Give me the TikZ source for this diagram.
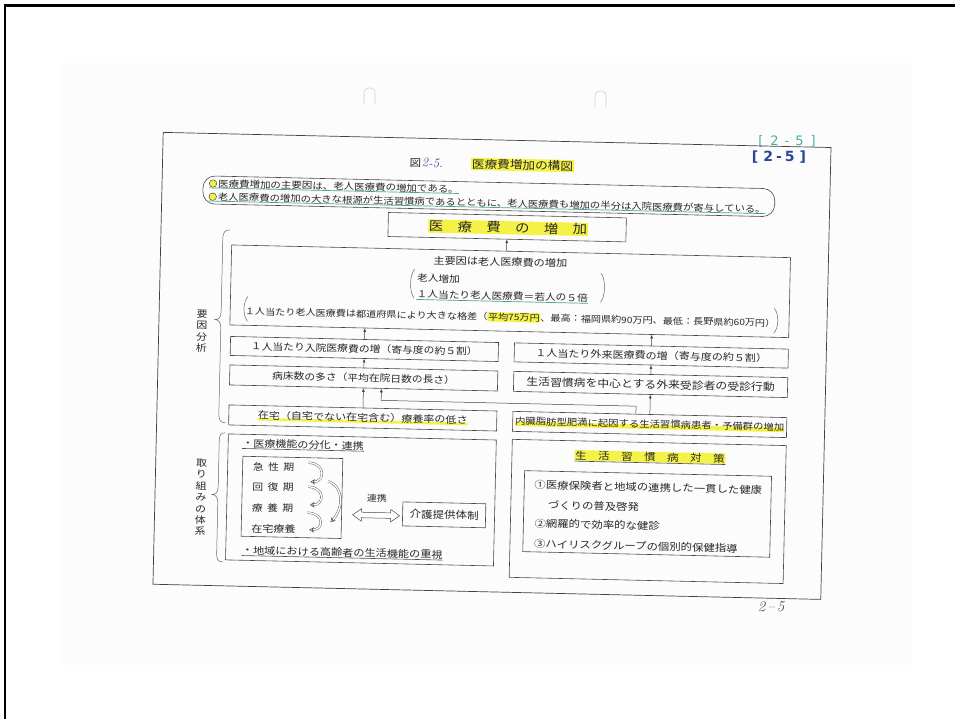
\documentclass[tikz,border=0pt]{standalone}
\usepackage{fontspec}
\newfontfamily\jp[FakeStretch=1.15]{Noto Sans CJK JP}
\newfontfamily\hand{DejaVu Sans}
\usetikzlibrary{arrows.meta,shapes.arrows}
\definecolor{hly}{RGB}{244,242,70}
\definecolor{ulg}{RGB}{70,165,140}
\definecolor{ink}{RGB}{40,40,40}
\definecolor{tealann}{RGB}{70,175,165}
\definecolor{bluann}{RGB}{40,70,150}
\newcommand\fsz[1]{\fontsize{#1}{#1}\selectfont}
\newcommand\myhl[1]{{\setlength{\fboxsep}{0.6pt}\colorbox{hly}{#1}}}
\newsavebox\mkbox
\newcommand\marker[3]{\sbox\mkbox{#3}\rlap{\textcolor{hly}{\rule[#1]{\wd\mkbox}{#2}}}\usebox\mkbox}
\begin{document}
\begin{tikzpicture}[x=1pt,y=-1pt,
  box/.style={draw=black!72, line width=0.6pt, inner sep=0pt, text=ink},
  txt/.style={inner sep=0pt, text=ink},
  arr/.style={draw=black!75, line width=0.5pt, -{Latex[length=3.6pt,width=2.8pt]}},
  ul/.style={draw=black!70, line width=0.6pt},
  gul/.style={draw=ulg, line width=0.7pt},
  brace/.style={draw=black!60, line width=0.5pt},
  hollow/.style={draw=black!70, line width=0.4pt, double=white, double distance=1.4pt, -{Stealth[length=4.8pt,width=5.5pt,open,line width=0.5pt]}},
  dot/.style={circle, draw=black!70, fill=hly, line width=0.5pt, minimum size=7.5pt, inner sep=0pt}
]
\useasboundingbox (0,0) rectangle (955,719);
\fill[white] (0,0) rectangle (955,719);
\fill[black!1] (61,63) rectangle (912,665);
\draw[line width=2.6pt] (5,719) -- (5,5.3) -- (955,5.3);
% punch holes
\draw[black!18, line width=0.6pt] (364,104) -- (364,93) .. controls (364,86) and (375,86) .. (375,93) -- (375,104);
\draw[black!18, line width=0.6pt] (595,107) -- (595,96) .. controls (595,89) and (606,89) .. (606,96) -- (606,107);
% handwritten annotations
\node[font=\hand\fsz{13}, text=tealann, inner sep=0pt] (ann1) at (787,141) {[\hspace{7pt}2\hspace{6pt}-\hspace{6pt}5\hspace{7pt}]};
\node[font=\hand\bfseries\fsz{14}, text=bluann, inner sep=0pt] (ann2) at (779,157) {[\hspace{5pt}2\hspace{3pt}-\hspace{3pt}5\hspace{5pt}]};
\node[font=\itshape\fsz{15}, text=black!70, inner sep=0pt] (pg) at (771,607) {2\hspace{2pt}--\hspace{2pt}5};

\begin{scope}[rotate around={-1.3:(497,365)}, transform shape]
\draw[draw=black!75, line width=0.7pt] (158,140) rectangle (826,592);
% title
\node[txt, font=\jp\fsz{10}] (zu) at (411,165) {図};
\node[txt, font=\itshape\fsz{13}, text=bluann, anchor=west] (zun) at (417,164.5) {2-5.};
\node[txt, font=\jp\fsz{11}, fill=hly, inner sep=1pt] (ttl) at (518,164.5) {医療費増加の構図};
% summary
\node[box, rounded corners=12pt, minimum width=572, minimum height=28] (sum) at (485,196.5) {};
\node[dot] (o1) at (209,190) {};
\node[dot] (o2) at (209,203.2) {};
\node[txt, anchor=west, font=\jp\fsz{9.1}] (s1) at (214,190) {医療費増加の主要因は、老人医療費の増加である。};
\node[txt, anchor=west, font=\jp\fsz{9}] (s2) at (214,203.2) {老人医療費の増加の大きな根源が生活習慣病であるとともに、老人医療費も増加の半分は入院医療費が寄与している。};
\draw[gul] (o1.west |- s1.south) -- (s1.south east);
\draw[gul] (o2.west |- s2.south) -- (s2.south east);
% increase
\node[box, minimum width=238, minimum height=24] (inc) at (504,227) {};
\node[txt, fill=hly, inner sep=0.8pt, font=\jp\fsz{12.5}] (inct) at (505,227.5) {医　療　費　の　増　加};
% big box
\node[box, minimum width=559, minimum height=80] (big) at (508.5,291) {};
\draw[arr] (inc.south |- big.north) -- (inc.south);
\node[txt, font=\jp\fsz{9.7}] (mainc) at (498,262) {主要因は老人医療費の増加};
\node[txt, anchor=west, font=\jp\fsz{9.3}] (old1) at (415,280) {老人増加};
\node[txt, anchor=west, font=\jp\fsz{9.3}] (old2) at (415,296) {１人当たり老人医療費＝若人の５倍};
\draw[gul] ([yshift=-0.8pt]old2.south west) -- ([yshift=-0.8pt]old2.south east);
\draw[brace] (412.5,271) .. controls (407.5,277) and (407.5,294) .. (412.5,300);
\draw[brace] (599,271) .. controls (604,277) and (604,294) .. (599,300);
\node[txt, font=\jp\fsz{8.8}] (diff) at (509,317) {１人当たり老人医療費は都道府県により大きな格差（\myhl{平均75万円}、最高：福岡県約90万円、最低：長野県約60万円）};
\draw[brace] (246.5,302) .. controls (241.5,308) and (241.5,321) .. (246.5,327);
\draw[brace] (773,302) .. controls (778,308) and (778,321) .. (773,327);
% columns
\node[box, minimum width=268, minimum height=19, font=\jp\fsz{9.4}] (A) at (364,352) {１人当たり入院医療費の増（寄与度の約５割）};
\node[box, minimum width=268, minimum height=20, font=\jp\fsz{9.35}] (B) at (364,381) {病床数の多さ（平均在院日数の長さ）};
\node[box, minimum width=268, minimum height=20, font=\jp\fsz{9.6}] (C) at (364,421) {\marker{-1.6pt}{2.6pt}{在宅（自宅でない在宅含む）療養率の低さ}};
\node[box, minimum width=274, minimum height=19, font=\jp\fsz{9.6}] (Ar) at (651,352) {１人当たり外来医療費の増（寄与度の約５割）};
\node[box, minimum width=274, minimum height=20, font=\jp\fsz{10.3}] (Br) at (651,381) {生活習慣病を中心とする外来受診者の受診行動};
\node[box, minimum width=274, minimum height=20, font=\jp\fsz{9}] (Cr) at (651,421) {\marker{-1.5pt}{4.5pt}{内臓脂肪型肥満に起因する生活習慣病患者・予備群の増加}};
\draw[arr] (C) -- (B);
\draw[arr] (B) -- (A);
\draw[arr] (A.north) -- (A.north |- big.south);
\draw[arr] (Cr) -- (Br);
\draw[arr] (Br) -- (Ar);
\draw[arr] (Ar.north) -- (Ar.north |- big.south);
\coordinate (e1) at (637,403);
\coordinate (e2) at (382,403);
\draw[arr] (Cr.north -| e1) -- (e1) -- (e2) -- (e2 |- B.south);
% braces and side labels
\draw[brace] (227,236) .. controls (222,236) and (220,238) .. (220,246) -- (220,318) .. controls (220,323) and (218,326) .. (214,326) .. controls (218,326) and (220,329) .. (220,334) -- (220,419) .. controls (220,427) and (222,429) .. (227,429);
\draw[brace] (227,439) .. controls (222,439) and (221,441) .. (221,449) -- (221,493) .. controls (221,498) and (219,501) .. (215,501) .. controls (219,501) and (221,504) .. (221,509) -- (221,558) .. controls (221,566) and (222,568) .. (227,568);
\node[txt, font=\jp\fontsize{9.5}{11.5}\selectfont, align=center] (lab1) at (201,338) {要\\因\\分\\析};
\node[txt, font=\jp\fontsize{9.5}{11.5}\selectfont, align=center] (lab2) at (204,504) {取\\り\\組\\み\\の\\体\\系};
% bottom left
\node[box, minimum width=268, minimum height=126] (BL) at (364,503) {};
\node[txt, anchor=west, font=\jp\fsz{9.6}] (bl1) at (244,449) {・医療機能の分化・連携};
\draw[ul] ([yshift=-0.6pt]bl1.south west) -- ([yshift=-0.6pt]bl1.south east);
\node[box, minimum width=100, minimum height=80] (stg) at (295,502) {};
\node[txt, anchor=west, font=\jp\fsz{9.4}] (st1) at (255,472) {急\hspace{4.5pt}性\hspace{4.5pt}期};
\node[txt, anchor=west, font=\jp\fsz{9.4}] (st2) at (255,492) {回\hspace{4.5pt}復\hspace{4.5pt}期};
\node[txt, anchor=west, font=\jp\fsz{9.4}] (st3) at (255,513) {療\hspace{4.5pt}養\hspace{4.5pt}期};
\node[txt, anchor=west, font=\jp\fsz{9.6}] (st4) at (255,534) {在宅療養};
\draw[hollow] (311,467) .. controls (328,467) and (328,486) .. (313,486);
\draw[hollow] (311,491) .. controls (328,491) and (328,509) .. (313,509);
\draw[hollow] (311,517) .. controls (328,517) and (328,534) .. (313,534);
\draw[hollow] (331,485) .. controls (348,491) and (346,513) .. (334,526);
\node[double arrow, draw=black!70, line width=0.5pt, fill=white, minimum height=47pt, inner xsep=0pt, inner ysep=2.5pt, double arrow head extend=3.5pt, double arrow tip angle=70] (da) at (379.5,518) {};
\node[txt, font=\jp\fsz{8.7}] (rk) at (380,501) {連携};
\node[box, minimum width=83, minimum height=24, font=\jp\fsz{10}] (kaigo) at (447.5,516) {介護提供体制};
\node[txt, anchor=west, font=\jp\fsz{9.7}] (bl2) at (246,556) {・地域における高齢者の生活機能の重視};
\draw[ul] ([yshift=-0.6pt]bl2.south west) -- ([yshift=-0.6pt]bl2.south east);
% bottom right
\node[box, minimum width=274, minimum height=138] (BR) at (651,508) {};
\node[txt, font=\jp\fsz{10}] (bst) at (652,453.5) {\myhl{生　活　習　慣　病　対　策}};
\draw[ul] ([yshift=-0.4pt]bst.south west) -- ([yshift=-0.4pt]bst.south east);
\node[box, minimum width=247, minimum height=81] (bri) at (650.5,510.5) {};
\node[txt, anchor=west, font=\jp\fsz{9.9}] (m1) at (537,484) {①医療保険者と地域の連携した一貫した健康};
\node[txt, anchor=west, font=\jp\fsz{9.9}] (m1b) at (551,504) {づくりの普及啓発};
\node[txt, anchor=west, font=\jp\fsz{9.9}] (m2) at (538,522.5) {②網羅的で効率的な健診};
\node[txt, anchor=west, font=\jp\fsz{9.9}] (m3) at (538,543) {③ハイリスクグループの個別的保健指導};
\end{scope}
\end{tikzpicture}
\end{document}
